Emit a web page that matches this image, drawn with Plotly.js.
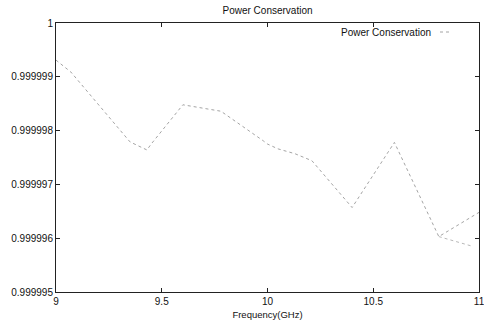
<!DOCTYPE html>
<html>
<head>
<meta charset="utf-8">
<script src="https://cdn.plot.ly/plotly-3.0.1.min.js"></script>
<style>html,body{margin:0;padding:0;background:#fff;}#chart{width:484px;height:324px;}</style>
</head>
<body>
<div id="chart"></div>
<script>
// Frequency (GHz)
const freq = [9.0, 9.07, 9.35, 9.43, 9.45, 9.6, 9.72, 9.78, 9.98, 10.0, 10.05, 10.13, 10.21, 10.4, 10.6, 10.81, 11.0];
// Power conservation
const power = [0.99999931, 0.99999909, 0.99999779, 0.99999764, 0.99999775, 0.99999848, 0.9999984, 0.99999836,
               0.99999781, 0.99999775, 0.99999766, 0.99999757, 0.99999744, 0.99999657, 0.99999778, 0.99999603, 0.99999648];
// faint secondary segment near the right edge
const freq2 = [10.81, 10.96];
const power2 = [0.99999603, 0.99999586];

const yTickVals = [0.999995, 0.999996, 0.999997, 0.999998, 0.999999, 1];
const yTickText = ['0.999995', '0.999996', '0.999997', '0.999998', '0.999999', '1'];
const xTickVals = [9, 9.5, 10, 10.5, 11];
const xTickText = ['9', '9.5', '10', '10.5', '11'];

const font = 'Liberation Sans, Arial, Helvetica, sans-serif';
const lineStyle = {color: '#9a9a9a', width: 0.9, dash: 'dot'};

const traces = [
  {x: freq, y: power, type: 'scatter', mode: 'lines', line: lineStyle, name: 'Power Conservation', showlegend: false},
  {x: freq2, y: power2, type: 'scatter', mode: 'lines', line: {color: '#b0b0b0', width: 0.9, dash: 'dot'}, showlegend: false}
];

const layout = {
  width: 484, height: 324,
  margin: {l: 56, r: 5, t: 23, b: 32},
  paper_bgcolor: '#fff', plot_bgcolor: '#fff',
  font: {family: font, size: 9, color: '#111'},
  title: {text: 'Power Conservation', x: 0.5, xref: 'paper', xanchor: 'center', y: 1 - 10/324, yanchor: 'middle',
          font: {family: font, size: 10, color: '#111'}},
  xaxis: {
    range: [9, 11], tickvals: xTickVals, ticktext: xTickText,
    ticks: 'inside', ticklen: 4, tickcolor: '#222', tickwidth: 1,
    showline: true, linecolor: '#222', linewidth: 1, mirror: 'ticks',
    showgrid: false, zeroline: false, ticklabeloverflow: 'allow',
    tickfont: {family: font, size: 10, color: '#111'},
    title: {text: 'Frequency(GHz)', font: {family: font, size: 9.5, color: '#111'}, standoff: 5}
  },
  yaxis: {
    range: [0.999995, 1], tickvals: yTickVals, ticktext: yTickText,
    ticks: 'inside', ticklen: 4, tickcolor: '#222', tickwidth: 1,
    showline: true, linecolor: '#222', linewidth: 1, mirror: 'ticks',
    showgrid: false, zeroline: false,
    tickfont: {family: font, size: 10, color: '#111'}
  },
  annotations: [
    {text: 'Power Conservation', xref: 'paper', yref: 'paper', x: (433 - 56) / 423, y: (292 - 32) / 269,
     xanchor: 'right', yanchor: 'middle', showarrow: false, font: {family: font, size: 10, color: '#111'}}
  ],
  shapes: [
    {type: 'line', xref: 'paper', yref: 'paper', x0: (440 - 56) / 423, x1: (452 - 56) / 423,
     y0: (292 - 32) / 269, y1: (292 - 32) / 269, line: {color: '#9a9a9a', width: 0.9, dash: 'dot'}}
  ]
};

Plotly.newPlot('chart', traces, layout, {displayModeBar: false, staticPlot: true});
</script>
</body>
</html>
